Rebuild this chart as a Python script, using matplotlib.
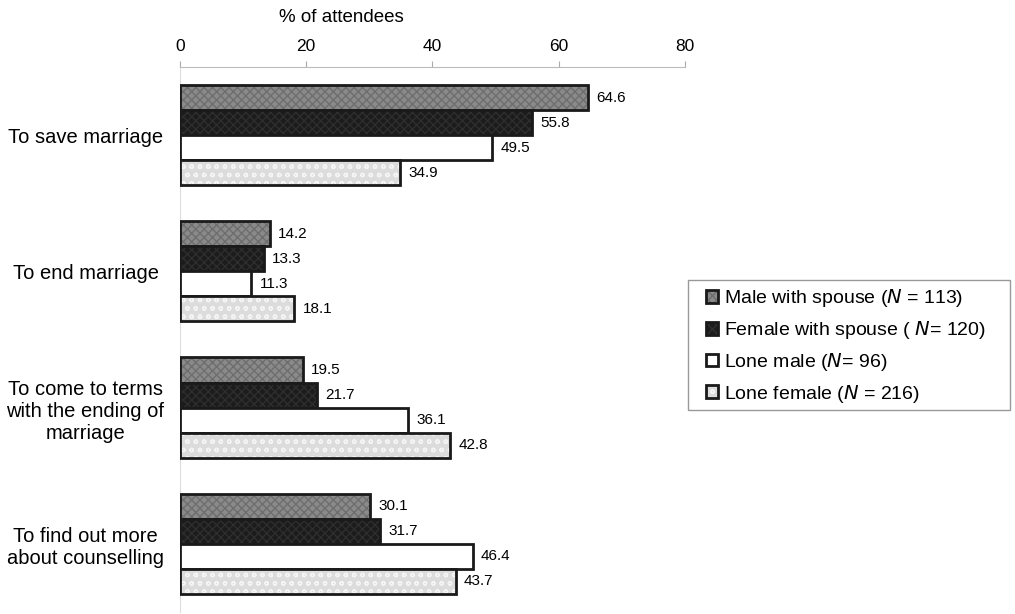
import matplotlib
matplotlib.use("Agg")
import matplotlib.pyplot as plt
from matplotlib.patches import Rectangle
import numpy as np

plt.rcParams["font.family"] = ["Liberation Sans", "DejaVu Sans"]
plt.rcParams["hatch.linewidth"] = 1.0

categories = ["To save marriage", "To end marriage",
              "To come to terms\nwith the ending of\nmarriage",
              "To find out more\nabout counselling"]
series = ["Male with spouse ($\\it{N}$ = 113)",
          "Female with spouse ( $\\it{N}$= 120)",
          "Lone male ($\\it{N}$= 96)",
          "Lone female ($\\it{N}$ = 216)"]
male_spouse = [64.6, 14.2, 19.5, 30.1]
female_spouse = [55.8, 13.3, 21.7, 31.7]
lone_male = [49.5, 11.3, 36.1, 46.4]
lone_female = [34.9, 18.1, 42.8, 43.7]
values = [male_spouse, female_spouse, lone_male, lone_female]

fills = ["#8a8a8a", "#1c1c1c", "#ffffff", "#dcdcdc"]
hatch_cols = ["#6e6e6e", "#2e2e2e", "#ffffff", "#f4f4f4"]
hatches = ["xxxx", "xxxx", None, "oo"]

fig = plt.figure(figsize=(10.15, 6.14), dpi=100)
ax = fig.add_axes([0.1773, 0.0033, 0.4976, 0.8876])

y = np.arange(len(categories))
h = 0.184
for i, vals in enumerate(values):
    pos = y - 1.5 * h + i * h
    bars = ax.barh(pos, vals, height=h, color=fills[i], edgecolor="#1a1a1a",
                   linewidth=2, label=series[i], zorder=3)
    for b in bars:
        if hatches[i]:
            b.set_hatch(hatches[i])
            b._hatch_color = matplotlib.colors.to_rgba(hatch_cols[i])
    for p, v in zip(pos, vals):
        ax.text(v + 1.3, p, f"{v:.1f}", va="center", ha="left", fontsize=11)

ax.set_ylim(3.5, -0.5)
ax.set_xlim(0, 80)
ax.set_xticks([0, 20, 40, 60, 80])
ax.xaxis.tick_top()
ax.tick_params(axis="x", length=4, color="#aaaaaa", labelsize=12.5, pad=5)
fig.text(341 / 1015, 1 - 17 / 614, "% of attendees", ha="center", va="center",
         fontsize=13.5)
ax.set_yticks(y)
ax.set_yticklabels(categories, fontsize=14.5, ha="center")
ax.tick_params(axis="y", length=0, pad=68)
for s in ["right", "bottom"]:
    ax.spines[s].set_visible(False)
ax.spines["top"].set_color("#bbbbbb")
ax.spines["left"].set_color("#dddddd")

# legend without its own frame; the box is drawn separately for wider padding
fig.legend(loc="center left", bbox_to_anchor=(706 / 1015, 1 - 346 / 614), fontsize=14,
           frameon=False, handlelength=0.62, handleheight=0.62, handletextpad=0.3,
           labelspacing=0.5, borderpad=0, borderaxespad=0)
fig.patches.append(Rectangle((688 / 1015, 1 - 410 / 614), 322 / 1015, 130 / 614,
                             transform=fig.transFigure, fill=False,
                             edgecolor="#999999", linewidth=1))

fig.savefig("out.png", dpi=100)
